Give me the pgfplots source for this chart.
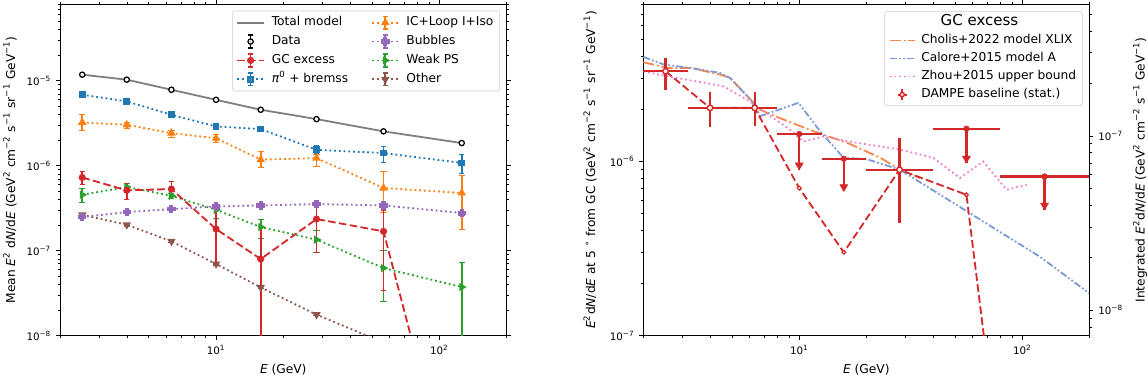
\documentclass[border=0pt]{standalone}
\usepackage{fontspec}
\setmainfont{DejaVu Sans}
\usepackage{pgfplots}
\pgfplotsset{compat=1.18}

\definecolor{tabblue}{HTML}{1F77B4}
\definecolor{taborange}{HTML}{FF7F0E}
\definecolor{tabgreen}{HTML}{2CA02C}
\definecolor{tabred}{HTML}{D62728}
\definecolor{tabpurple}{HTML}{9467BD}
\definecolor{tabbrown}{HTML}{8C564B}
\definecolor{totgray}{HTML}{7F7F7F}
\definecolor{cholis}{HTML}{F5874F}
\definecolor{calore}{HTML}{7B9AD6}
\definecolor{zhou}{HTML}{F07FD0}

\newcommand\labsize{\fontsize{8.8}{10.5}\selectfont}
\newcommand\ticksize{\fontsize{7.4}{9}\selectfont}
\newcommand\sus[1]{\textsuperscript{#1}}

\pgfdeclareplotmark{Pplus}{%
 \pgfpathmoveto{\pgfqpoint{-0.35\pgfplotmarksize}{\pgfplotmarksize}}%
 \pgfpathlineto{\pgfqpoint{0.35\pgfplotmarksize}{\pgfplotmarksize}}%
 \pgfpathlineto{\pgfqpoint{0.35\pgfplotmarksize}{0.35\pgfplotmarksize}}%
 \pgfpathlineto{\pgfqpoint{\pgfplotmarksize}{0.35\pgfplotmarksize}}%
 \pgfpathlineto{\pgfqpoint{\pgfplotmarksize}{-0.35\pgfplotmarksize}}%
 \pgfpathlineto{\pgfqpoint{0.35\pgfplotmarksize}{-0.35\pgfplotmarksize}}%
 \pgfpathlineto{\pgfqpoint{0.35\pgfplotmarksize}{-\pgfplotmarksize}}%
 \pgfpathlineto{\pgfqpoint{-0.35\pgfplotmarksize}{-\pgfplotmarksize}}%
 \pgfpathlineto{\pgfqpoint{-0.35\pgfplotmarksize}{-0.35\pgfplotmarksize}}%
 \pgfpathlineto{\pgfqpoint{-\pgfplotmarksize}{-0.35\pgfplotmarksize}}%
 \pgfpathlineto{\pgfqpoint{-\pgfplotmarksize}{0.35\pgfplotmarksize}}%
 \pgfpathlineto{\pgfqpoint{-0.35\pgfplotmarksize}{0.35\pgfplotmarksize}}%
 \pgfpathclose
 \pgfusepathqfillstroke
}

\tikzset{
  mydotl/.style={line width=1.3pt, dash pattern=on 1.3pt off 2.1pt},
}
\pgfplotsset{
  lineleg/.style={legend image code/.code={\draw[##1] (0pt,0pt) -- (19pt,0pt);}},
  errleg/.style={legend image code/.code={%
     \draw[##1, mark=none] (0pt,0pt) -- (19pt,0pt);
     \draw[##1, solid, mark=none, line width=1.2pt] (9.5pt,-4.5pt) -- (9.5pt,4.5pt) (7.7pt,-4.5pt) -- (11.3pt,-4.5pt) (7.7pt,4.5pt) -- (11.3pt,4.5pt);
     \draw[##1] plot coordinates {(9.5pt,0pt)};}},
  dataleg/.style={legend image code/.code={%
     \draw[##1, solid, mark=none, line width=1.2pt] (9.5pt,-4.5pt) -- (9.5pt,4.5pt) (7.7pt,-4.5pt) -- (11.3pt,-4.5pt) (7.7pt,4.5pt) -- (11.3pt,4.5pt);
     \draw[##1] plot coordinates {(9.5pt,0pt)};}},
  rlineleg/.style={legend image code/.code={\draw[##1] (0pt,0pt) -- (18pt,0pt);}},
  dampeleg/.style={legend image code/.code={%
     \draw[##1, mark=none] (5.8pt,0pt) -- (12.2pt,0pt) (9pt,-3.8pt) -- (9pt,3.8pt);
     \draw[##1] plot coordinates {(9pt,0pt)};}},
}

\begin{document}
\begin{tikzpicture}[x=1pt,y=1pt]
\useasboundingbox (0,0) rectangle (826.56,271.44);

% ---------------- LEFT PANEL ----------------
\begin{axis}[scale only axis, xmode=log, ymode=log, xmin=2, xmax=200,
  tick align=outside, major tick length=3pt, minor tick length=1.8pt,
  every tick/.style={black, line width=0.6pt},
  axis line style={line width=0.7pt},
  tick label style={font=\ticksize},
  xlabel style={font=\labsize, at={(axis description cs:0.5,-0.103)}, anchor=center},
  ylabel style={font=\labsize, at={(axis description cs:-0.112,0.5)}, anchor=center},
  xtick={10,100}, xticklabels={10\sus{1},10\sus{2}},
  minor xtick={2,3,4,5,6,7,8,9,20,30,40,50,60,70,80,90,200},
  xlabel={\textit{E} (GeV)},
  legend cell align=left,
  at={(43.2pt,29.74pt)}, anchor=south west, width=321.5pt, height=238.8pt,
  ymin=1e-8, ymax=8e-5,
  xtick pos=both, ytick pos=both, xticklabel pos=left, yticklabel pos=left,
  ytick={1e-8,1e-7,1e-6,1e-5}, yticklabels={10\sus{−8},10\sus{−7},10\sus{−6},10\sus{−5}},
  minor ytick={2e-8,3e-8,4e-8,5e-8,6e-8,7e-8,8e-8,9e-8,2e-7,3e-7,4e-7,5e-7,6e-7,7e-7,8e-7,9e-7,2e-6,3e-6,4e-6,5e-6,6e-6,7e-6,8e-6,9e-6,2e-5,3e-5,4e-5,5e-5,6e-5,7e-5,8e-5},
  ylabel={Mean \textit{E}\sus{2} d\textit{N}/d\textit{E} (GeV\sus{2} cm\sus{−2} s\sus{−1} sr\sus{−1} GeV\sus{−1})},
  legend columns=2,
  legend style={at={(axis description cs:0.9854,0.9798)}, anchor=north east, draw=black!20, rounded corners=2pt,
     fill=white, fill opacity=0.8, text opacity=1, font=\labsize, inner xsep=3pt, inner ysep=2.4pt,
     nodes={text height=6.6pt, text depth=2.2pt, inner sep=1.6pt}, row sep=1.6pt,
     /tikz/every odd column/.append style={column sep=3.5pt},
     /tikz/every even column/.append style={column sep=15pt}},
]
\addplot[totgray, line width=1.3pt, forget plot] coordinates {(2.515,1.18e-5) (3.981,1.03e-5) (6.31,7.84e-6) (10,5.97e-6) (15.85,4.56e-6) (28.18,3.54e-6) (56.23,2.54e-6) (125.99,1.85e-6)};
\addplot[black, only marks, mark=*, mark size=1.9pt, mark options={fill=white, line width=0.9pt}, forget plot] coordinates {(2.515,1.18e-5) (3.981,1.03e-5) (6.31,7.84e-6) (10,5.97e-6) (15.85,4.56e-6) (28.18,3.54e-6) (56.23,2.54e-6) (125.99,1.85e-6)};

% Other
\addplot[tabbrown, mydotl, mark=triangle*, mark size=2.2pt, mark options={solid, rotate=180}, forget plot,
  error bars/.cd, y dir=both, y explicit, error bar style={solid, line width=1.3pt}] coordinates {
(2.515,2.65e-7) +- (0,0.08e-7) (3.981,2.02e-7) +- (0,0.06e-7) (6.31,1.29e-7) +- (0,0.04e-7) (10,6.97e-8) +- (0,0.2e-8)
(15.85,3.7e-8) +- (0,0.1e-8) (28.18,1.77e-8) +- (0,0.05e-8) (56.23,8.3e-9) +- (0,0.3e-9) (125.99,3.5e-9) +- (0,0.1e-9)};
% Weak PS
\addplot[tabgreen, mydotl, mark=triangle*, mark size=2.2pt, mark options={solid, rotate=-90}, forget plot,
  error bars/.cd, y dir=both, y explicit, error bar style={solid, line width=1.3pt}] coordinates {
(2.515,4.56e-7) += (0,0.91e-7) -= (0,0.86e-7)
(3.981,5.62e-7) += (0,0.63e-7) -= (0,0.63e-7)
(6.31,4.43e-7) += (0,0.37e-7) -= (0,0.33e-7)
(10,3.03e-7) += (0,0.35e-7) -= (0,0.6e-7)
(15.85,1.9e-7) += (0,0.42e-7) -= (0,0.49e-7)
(28.18,1.35e-7) += (0,0.38e-7) -= (0,0.395e-7)
(56.23,6.25e-8) += (0,3.75e-8) -= (0,3.72e-8)
(125.99,3.74e-8) += (0,3.62e-8) -= (0,3.73e-8)};
% Bubbles
\addplot[tabpurple, mydotl, mark=Pplus, mark size=2.4pt, mark options={solid}, forget plot,
  error bars/.cd, y dir=both, y explicit, error bar style={solid, line width=1.3pt}] coordinates {
(2.515,2.49e-7) +- (0,0.1e-7) (3.981,2.85e-7) +- (0,0.1e-7) (6.31,3.09e-7) +- (0,0.1e-7) (10,3.32e-7) +- (0,0.12e-7)
(15.85,3.41e-7) +- (0,0.12e-7) (28.18,3.54e-7) +- (0,0.12e-7) (56.23,3.41e-7) +- (0,0.15e-7) (125.99,2.78e-7) +- (0,0.15e-7)};
% IC + Loop I + Iso
\addplot[taborange, mydotl, mark=triangle*, mark size=2.3pt, mark options={solid}, forget plot,
  error bars/.cd, y dir=both, y explicit, error bar style={solid, line width=1.3pt}] coordinates {
(2.515,3.24e-6) += (0,0.76e-6) -= (0,0.59e-6)
(3.981,3.03e-6) += (0,0.21e-6) -= (0,0.25e-6)
(6.31,2.42e-6) += (0,0.23e-6) -= (0,0.24e-6)
(10,2.11e-6) += (0,0.25e-6) -= (0,0.21e-6)
(15.85,1.18e-6) += (0,0.29e-6) -= (0,0.225e-6)
(28.18,1.23e-6) += (0,0.15e-6) -= (0,0.24e-6)
(56.23,5.47e-7) += (0,3.1e-7) -= (0,2.67e-7)
(125.99,4.78e-7) += (0,3.05e-7) -= (0,3.01e-7)};
% pi0 + bremss
\addplot[tabblue, mydotl, mark=square*, mark size=1.8pt, mark options={solid}, forget plot,
  error bars/.cd, y dir=both, y explicit, error bar style={solid, line width=1.3pt}] coordinates {
(2.515,6.85e-6) +- (0,0.2e-6)
(3.981,5.72e-6) +- (0,0.17e-6)
(6.31,3.98e-6) +- (0,0.15e-6)
(10,2.9e-6) +- (0,0.12e-6)
(15.85,2.7e-6) += (0,0.2e-6) -= (0,0.16e-6)
(28.18,1.54e-6) += (0,0.19e-6) -= (0,0.15e-6)
(56.23,1.41e-6) += (0,0.28e-6) -= (0,0.30e-6)
(125.99,1.08e-6) += (0,0.30e-6) -= (0,0.26e-6)};
% GC excess
\addplot[tabred, line width=1.3pt, dash pattern=on 5.5pt off 2.4pt, mark=*, mark size=1.9pt, mark options={solid}, forget plot,
  error bars/.cd, y dir=both, y explicit, error bar style={solid, line width=1.3pt}] coordinates {
(2.515,7.28e-7) += (0,1.29e-7) -= (0,1.18e-7)
(3.981,5.13e-7) += (0,1.12e-7) -= (0,1.07e-7)
(6.31,5.32e-7) += (0,1.21e-7) -= (0,0.97e-7)
(10,1.8e-7) += (0,1.38e-7) -= (0,1.116e-7)
(15.85,7.98e-8) += (0,1.13e-7) -= (0,7.97e-8)
(28.18,2.36e-7) += (0,1.12e-7) -= (0,1.405e-7)
(56.23,1.69e-7) += (0,1.34e-7) -= (0,1.343e-7)
(125.99,5e-11) +- (0,0)};

% legend (row-wise order for 2 columns)
\addlegendimage{lineleg, totgray, line width=1.3pt}
\addlegendentry{Total model}
\addlegendimage{errleg, taborange, mydotl, mark=triangle*, mark size=2.3pt, mark options={solid}}
\addlegendentry{IC+Loop I+Iso}
\addlegendimage{dataleg, black, mark=*, mark size=1.9pt, mark options={fill=white, line width=0.9pt}}
\addlegendentry{Data}
\addlegendimage{errleg, tabpurple, mydotl, mark=Pplus, mark size=2.4pt, mark options={solid}}
\addlegendentry{Bubbles}
\addlegendimage{errleg, tabred, line width=1.3pt, dash pattern=on 5.5pt off 2.4pt, mark=*, mark size=1.9pt, mark options={solid}}
\addlegendentry{GC excess}
\addlegendimage{errleg, tabgreen, mydotl, mark=triangle*, mark size=2.2pt, mark options={solid, rotate=-90}}
\addlegendentry{Weak PS}
\addlegendimage{errleg, tabblue, mydotl, mark=square*, mark size=1.8pt, mark options={solid}}
\addlegendentry{\textit{π}\sus{0} + bremss}
\addlegendimage{errleg, tabbrown, mydotl, mark=triangle*, mark size=2.2pt, mark options={solid, rotate=180}}
\addlegendentry{Other}
\end{axis}

% ---------------- RIGHT PANEL ----------------
\begin{axis}[scale only axis, xmode=log, ymode=log, xmin=2, xmax=200,
  tick align=outside, major tick length=3pt, minor tick length=1.8pt,
  every tick/.style={black, line width=0.6pt},
  axis line style={line width=0.7pt},
  tick label style={font=\ticksize},
  xlabel style={font=\labsize, at={(axis description cs:0.5,-0.103)}, anchor=center},
  ylabel style={font=\labsize, at={(axis description cs:-0.1195,0.5)}, anchor=center},
  xtick={10,100}, xticklabels={10\sus{1},10\sus{2}},
  minor xtick={2,3,4,5,6,7,8,9,20,30,40,50,60,70,80,90,200},
  xlabel={\textit{E} (GeV)},
  legend cell align=left,
  at={(463.2pt,29.74pt)}, anchor=south west, width=321.1pt, height=238.8pt,
  ymin=1e-7, ymax=8e-6,
  xtick pos=both, ytick pos=left, xticklabel pos=left,
  ytick={1e-7,1e-6}, yticklabels={10\sus{−7},10\sus{−6}},
  minor ytick={2e-7,3e-7,4e-7,5e-7,6e-7,7e-7,8e-7,9e-7,2e-6,3e-6,4e-6,5e-6,6e-6,7e-6,8e-6},
  ylabel={\textit{E}\sus{2}d\textit{N}/d\textit{E} at 5 \sus{∘} from GC (GeV\sus{2} cm\sus{−2} s\sus{−1} sr\sus{−1} GeV\sus{−1})},
  legend style={at={(axis description cs:0.9852,0.979)}, anchor=north east, draw=black!20, rounded corners=2pt,
     fill=white, fill opacity=0.8, text opacity=1, font=\labsize, inner xsep=3pt, inner ysep=2pt,
     nodes={text height=6.6pt, text depth=2.2pt, inner sep=1.6pt}, row sep=1.0pt,
     /tikz/every odd column/.append style={column sep=2.5pt}},
]
% Cholis
\addplot[cholis, line width=1.3pt, dash pattern=on 8pt off 2.1pt on 1.3pt off 2.1pt, forget plot] coordinates {
(2.0,3.71e-6) (2.56,3.44e-6) (3.25,3.44e-6) (4.43,3.15e-6) (4.9,3.01e-6) (6.24,2.17e-6) (6.69,1.98e-6) (8.22,1.77e-6)
(11.6,1.49e-6) (16.4,1.28e-6) (23.1,1.05e-6) (28.3,8.96e-7) (34.8,8.03e-7)};
% Calore
\addplot[calore, line width=1.3pt, dash pattern=on 5pt off 1.6pt on 1.3pt off 1.6pt on 1.3pt off 1.6pt, forget plot] coordinates {
(2.0,3.98e-6) (2.47,3.6e-6) (3.25,3.44e-6) (4.43,3.22e-6) (4.9,3.01e-6) (6.04,2.27e-6) (6.69,1.82e-6) (9.93,2.17e-6)
(12.4,1.49e-6) (15.8,1.05e-6) (20.1,1.03e-6) (28.3,8.96e-7) (120,2.84e-7) (200,1.75e-7)};
% Zhou
\addplot[zhou, mydotl, forget plot] coordinates {
(2.0,3.29e-6) (2.56,3.08e-6) (3.25,2.92e-6) (4.58,2.70e-6) (6.04,2.2e-6) (7.17,1.88e-6) (9.1,1.52e-6) (10.45,1.30e-6)
(12.85,1.39e-6) (18.1,1.28e-6) (28.3,1.17e-6) (39.9,1.05e-6) (52.6,8.03e-7) (66.8,1.0e-6) (85.1,6.88e-7) (104.7,7.35e-7)};
% DAMPE dashed model line
\addplot[tabred, line width=1.3pt, dash pattern=on 5.5pt off 2.5pt, forget plot] coordinates {
(2.515,3.29e-6) (3.981,2.03e-6) (6.31,2.03e-6) (10,7.03e-7) (15.85,3.01e-7) (28.18,8.96e-7) (56.23,6.44e-7) (125.99,1.5e-10)};
\addplot[tabred, only marks, mark=*, mark size=1.4pt, mark options={fill=white, line width=0.8pt}, forget plot] coordinates {
(10,7.03e-7) (15.85,3.01e-7) (56.23,6.44e-7)};
% DAMPE upper limits
\addplot[tabred, only marks, mark=*, mark options={draw=none, fill=none}, forget plot,
  error bars/.cd, x dir=both, x explicit, y dir=minus, y explicit, error mark=none, error bar style={line width=1.6pt}] coordinates {
(10,1.437e-6) += (2.589,0) -= (2.057,5.41e-7)
(15.85,1.036e-6) += (4.10,0) -= (3.26,3.63e-7)
(56.23,1.542e-6) += (23.2,0) -= (16.42,5.63e-7)
(125.99,8.2e-7) += (74.0,0) -= (46.56,2.93e-7)};
\addplot[tabred, only marks, mark=triangle*, mark size=3.3pt, mark options={yshift=3.3pt, rotate=180}, forget plot] coordinates {
(10,8.96e-7) (15.85,6.73e-7) (56.23,9.79e-7) (125.99,5.27e-7)};
% DAMPE data points
\addplot[tabred, only marks, mark=*, mark options={draw=none, fill=none}, forget plot,
  error bars/.cd, x dir=both, y dir=both, x explicit, y explicit, error mark=none, error bar style={line width=1.6pt}] coordinates {
(2.515,3.29e-6) += (0.647,0.65e-6) -= (0.515,0.71e-6)
(3.981,2.03e-6) += (1.031,0.46e-6) -= (0.819,0.45e-6)
(6.31,2.03e-6) += (1.633,0.46e-6) -= (1.298,0.43e-6)
(28.18,8.96e-7) += (11.63,4.64e-7) -= (8.23,4.53e-7)};
\addplot[tabred, only marks, mark=*, mark size=2pt, mark options={fill=white, line width=1pt}, forget plot] coordinates {
(2.515,3.29e-6) (3.981,2.03e-6) (6.31,2.03e-6) (28.18,8.96e-7)};

\addlegendimage{empty legend}
\addlegendentry{\hspace*{14pt}{\fontsize{10.8}{12}\selectfont GC excess}}
\addlegendimage{rlineleg, cholis, line width=1.3pt, dash pattern=on 8pt off 2.1pt on 1.3pt off 2.1pt}
\addlegendentry{Cholis+2022 model XLIX}
\addlegendimage{rlineleg, calore, line width=1.3pt, dash pattern=on 5pt off 1.6pt on 1.3pt off 1.6pt on 1.3pt off 1.6pt}
\addlegendentry{Calore+2015 model A}
\addlegendimage{rlineleg, zhou, mydotl}
\addlegendentry{Zhou+2015 upper bound}
\addlegendimage{dampeleg, tabred, line width=1.4pt, mark=*, mark size=1.6pt, mark options={fill=white, line width=0.9pt}}
\addlegendentry{DAMPE baseline (stat.)}
\end{axis}

% secondary right axis
\begin{axis}[scale only axis, xmode=log, ymode=log, xmin=2, xmax=200,
  tick align=outside, major tick length=3pt, minor tick length=1.8pt,
  every tick/.style={black, line width=0.6pt},
  axis line style={line width=0.7pt},
  tick label style={font=\ticksize},
  ylabel style={font=\labsize, at={(axis description cs:1.114,0.5)}, anchor=center},
  at={(463.2pt,29.74pt)}, anchor=south west, width=321.1pt, height=238.8pt,
  axis x line=none, axis y line*=right,
  ymin=7.14e-9, ymax=5.71e-7,
  ytick={1e-8,1e-7}, yticklabels={10\sus{−8},10\sus{−7}},
  minor ytick={8e-9,9e-9,2e-8,3e-8,4e-8,5e-8,6e-8,7e-8,8e-8,9e-8,2e-7,3e-7,4e-7,5e-7},
  ylabel={Integrated \textit{E}\sus{2}d\textit{N}/d\textit{E} (GeV\sus{2} cm\sus{−2} s\sus{−1} GeV\sus{−1})},
]
\end{axis}
\end{tikzpicture}
\end{document}
